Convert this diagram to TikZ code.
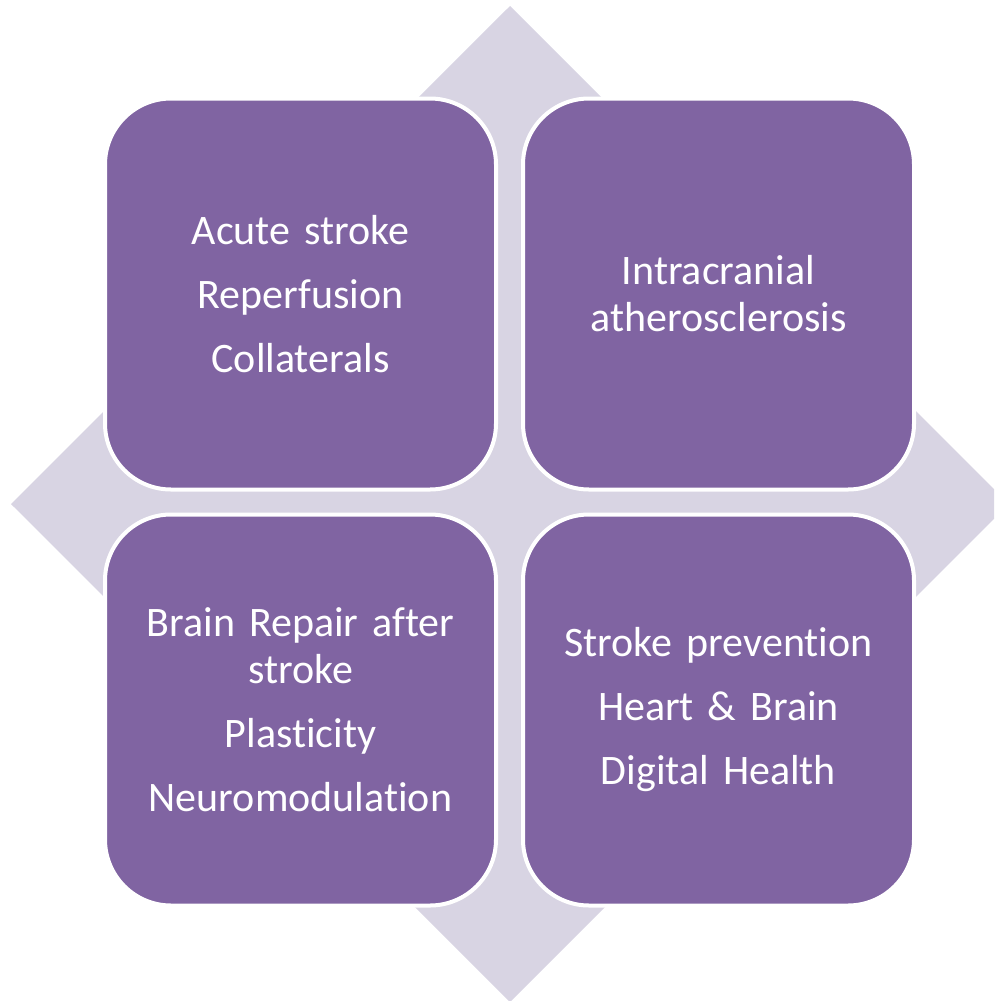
\documentclass[tikz,border=0pt]{standalone}
\usepackage{fontspec}
\setmainfont[Ligatures=NoCommon]{Carlito}
\usepackage{xcolor}
\usepackage{tikz}

\definecolor{lavender}{RGB}{216,212,227}
\definecolor{plum}{RGB}{128,100,162}

\begin{document}
\begin{tikzpicture}[x=1pt,y=-1pt,
    box/.style={rectangle, rounded corners=66pt, fill=plum, draw=white,
        line width=4pt, minimum width=391pt, minimum height=391pt,
        inner sep=0pt, text width=360pt, align=center, text=white,
        font=\fontsize{42}{47}\selectfont}]
    \useasboundingbox (0,0) rectangle (994,1001);
    \clip (0,0) rectangle (994,1001);
    % Background diamond
    \fill[lavender] (510,6) -- (1009,504) -- (510,1002) -- (11,504) -- cycle;
    % The four rounded squares
    \node[box] (acute) at (300.5,294) {Acute stroke\\[17pt] Reperfusion\\[17pt] Collaterals};
    \node[box] (icas) at (718.5,294) {Intracranial\\ atherosclerosis};
    \node[box] (repair) at (300.5,710) {Brain Repair after\\ stroke\\[17pt] Plasticity\\[17pt] Neuromodulation};
    \node[box] (prevent) at (718.5,710) {Stroke prevention\\[17pt] Heart \& Brain\\[17pt] Digital Health};
\end{tikzpicture}
\end{document}
